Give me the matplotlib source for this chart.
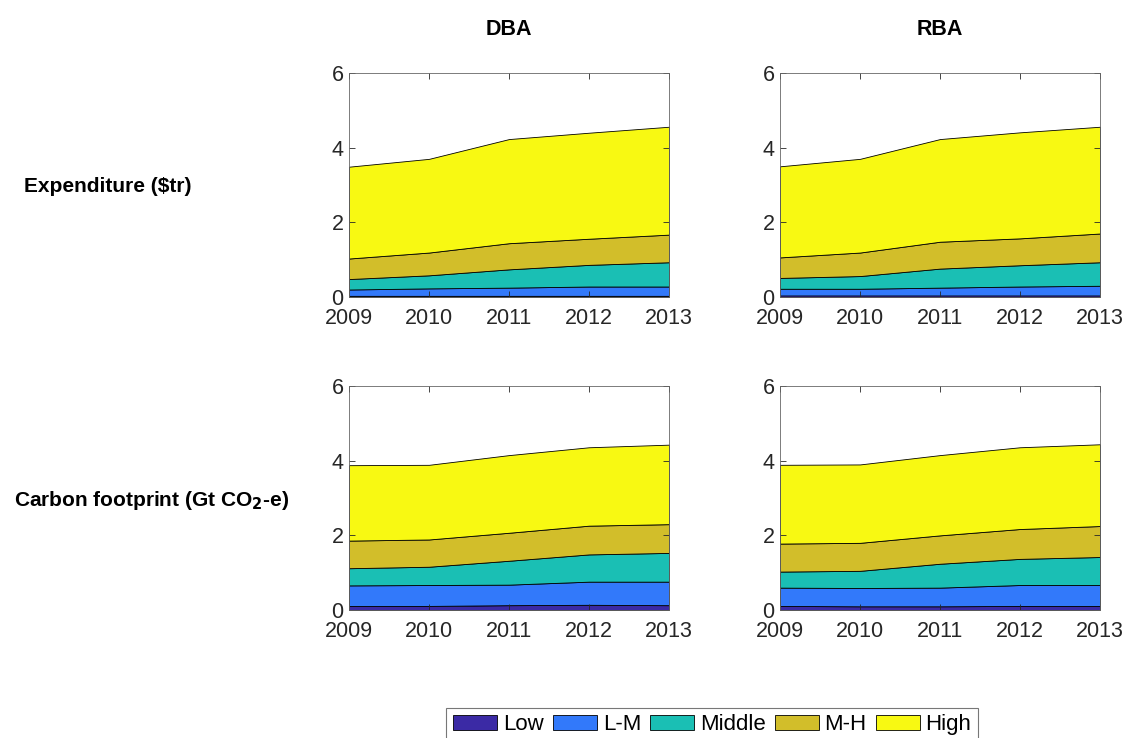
import matplotlib
matplotlib.use('Agg')
import matplotlib.pyplot as plt
from matplotlib.patches import Patch
import numpy as np

plt.rcParams['font.family'] = ['Liberation Sans', 'DejaVu Sans']

years = [2009, 2010, 2011, 2012, 2013]
groups = ['Low', 'L-M', 'Middle', 'M-H', 'High']
colors = ['#3b2aa5', '#3279fa', '#1abfb4', '#d2be2a', '#f8f912']

# expenditure ($tr), per income group
exp_dba_low = [0.03, 0.03, 0.03, 0.03, 0.03]
exp_dba_lm = [0.17, 0.20, 0.22, 0.25, 0.25]
exp_dba_mid = [0.28, 0.35, 0.49, 0.58, 0.65]
exp_dba_mh = [0.55, 0.61, 0.70, 0.70, 0.74]
exp_dba_high = [2.46, 2.51, 2.79, 2.84, 2.89]

exp_rba_low = [0.04, 0.04, 0.04, 0.04, 0.04]
exp_rba_lm = [0.18, 0.18, 0.21, 0.24, 0.26]
exp_rba_mid = [0.29, 0.34, 0.51, 0.57, 0.63]
exp_rba_mh = [0.55, 0.63, 0.72, 0.72, 0.77]
exp_rba_high = [2.44, 2.51, 2.75, 2.84, 2.86]

# carbon footprint (Gt CO2-e), per income group
co2_dba_low = [0.11, 0.11, 0.13, 0.14, 0.13]
co2_dba_lm = [0.55, 0.56, 0.55, 0.62, 0.63]
co2_dba_mid = [0.46, 0.49, 0.64, 0.73, 0.77]
co2_dba_mh = [0.74, 0.73, 0.75, 0.77, 0.77]
co2_dba_high = [2.02, 2.00, 2.08, 2.10, 2.13]

co2_rba_low = [0.11, 0.10, 0.10, 0.11, 0.11]
co2_rba_lm = [0.49, 0.49, 0.50, 0.56, 0.56]
co2_rba_mid = [0.43, 0.46, 0.64, 0.70, 0.75]
co2_rba_mh = [0.75, 0.75, 0.76, 0.80, 0.83]
co2_rba_high = [2.11, 2.10, 2.15, 2.19, 2.19]

panels = [
    [exp_dba_low, exp_dba_lm, exp_dba_mid, exp_dba_mh, exp_dba_high],
    [exp_rba_low, exp_rba_lm, exp_rba_mid, exp_rba_mh, exp_rba_high],
    [co2_dba_low, co2_dba_lm, co2_dba_mid, co2_dba_mh, co2_dba_high],
    [co2_rba_low, co2_rba_lm, co2_rba_mid, co2_rba_mh, co2_rba_high],
]

fig = plt.figure(figsize=(11.27, 7.38), dpi=100)

lefts = [0.3097, 0.6921]
bottoms = [0.5976, 0.1734]
w, h = 0.2839, 0.3035
axcolor = '#262626'

for i, series in enumerate(panels):
    ax = fig.add_axes([lefts[i % 2], bottoms[i // 2], w, h])
    ax.stackplot(years, *series, colors=colors, edgecolor='black', linewidth=0.6)
    ax.set_xlim(2009, 2013)
    ax.set_ylim(0, 6)
    ax.set_xticks(years)
    ax.set_yticks([0, 2, 4, 6])
    ax.tick_params(direction='in', top=True, right=True, labelsize=15.5,
                   length=4, width=0.6, color=axcolor, labelcolor=axcolor)
    ax.tick_params(axis='x', pad=8)
    ax.tick_params(axis='y', pad=4)
    for sp in ax.spines.values():
        sp.set_linewidth(0.6)
        sp.set_color('#666666')
    if i < 2:
        ax.set_title(['DBA', 'RBA'][i], fontsize=15.5, fontweight='bold', pad=27)

fig.text(0.021, 0.747, 'Expenditure ($tr)', fontsize=15, fontweight='bold',
         ha='left', va='center')
fig.text(0.012, 0.322, 'Carbon footprint (Gt CO$_\\mathbf{2}$-e)', fontsize=15,
         fontweight='bold', ha='left', va='center')

handles = [Patch(facecolor=c, edgecolor='black', linewidth=0.6) for c in colors]
leg = fig.legend(handles, groups, loc='upper center', bbox_to_anchor=(0.632, 0.041),
                 ncol=5, fontsize=16, frameon=True, fancybox=False,
                 handlelength=2.0, handleheight=0.65, handletextpad=0.25,
                 columnspacing=0.4, borderpad=0.3, borderaxespad=0)
leg.get_frame().set_edgecolor('#555555')
leg.get_frame().set_linewidth(0.8)

fig.savefig('out.png', dpi=100)
